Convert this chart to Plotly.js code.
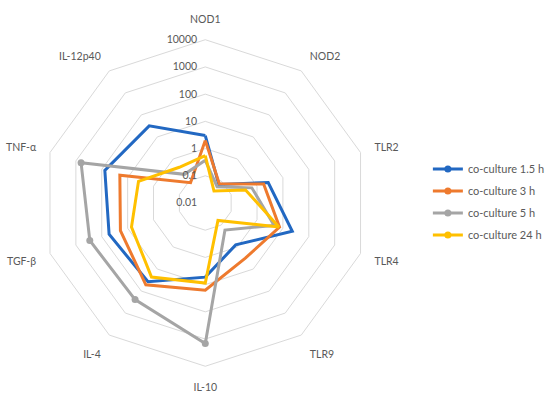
<!DOCTYPE html>
<html>
<head>
<meta charset="utf-8">
<script src="https://cdn.plot.ly/plotly-3.0.1.min.js"></script>
<style>html,body{margin:0;padding:0;background:#fff;}#chart{width:550px;height:396px;}</style>
</head>
<body>
<div id="chart"></div>
<script>
var categories = ["NOD1","NOD2","TLR2","TLR4","TLR9","IL-10","IL-4","TGF-β","TNF-α","IL-12p40"];
var seriesNames = ["co-culture 1.5 h","co-culture 3 h","co-culture 5 h","co-culture 24 h"];
var cc15 = [3, 0.07, 2.7, 23, 0.8, 5.3, 38, 52, 76, 32];
var cc3  = [2, 0.075, 1.8, 7.4, 3.2, 16, 52, 19, 20, 0.083];
var cc5  = [0.37, 0.055, 0.63, 4.6, 0.17, 1450, 245, 290, 630, 0.2];
var cc24 = [0.55, 0.035, 0.36, 7, 0.062, 8.7, 23, 7.1, 3.8, 0.42];
var tickVals = [0.01, 0.1, 1, 10, 100, 1000, 10000];
var tickText = ["0.01","0.1","1","10","100","1000","10000"];
var colors = ["#2268C2","#EE7A2E","#A5A5A5","#FFC000"];

var allSeries = [cc15, cc3, cc5, cc24];
var traces = allSeries.map(function(vals, i){
  return {
    type: "scatterpolar",
    r: vals.concat([vals[0]]),
    theta: categories.concat([categories[0]]),
    name: seriesNames[i],
    legendgroup: "g" + i,
    mode: "lines+markers",
    line: {color: colors[i], width: 3},
    marker: {color: colors[i], size: 7},
    cliponaxis: false
  };
});

var layout = {
  width: 550, height: 396,
  margin: {l:0, r:0, t:0, b:0},
  paper_bgcolor: "#fff",
  font: {family: "Lato, 'Liberation Sans', sans-serif", size: 10.5, color: "#595959"},
  showlegend: true,
  legend: {x: 0.815, y: 0.49, xanchor: "left", yanchor: "middle", tracegroupgap: 3,
           font: {size: 11, color: "#595959"}, bgcolor: "rgba(0,0,0,0)", itemwidth: 30},
  polar: {
    domain: {x: [0.08, 0.702], y: [0.0556, 0.9192]},
    gridshape: "linear",
    bgcolor: "#fff",
    radialaxis: {
      type: "log", range: [-2, 4],
      tickvals: tickVals, ticktext: tickText,
      angle: 90, tickangle: 90, side: "counterclockwise",
      showline: false, ticks: "outside", ticklen: 4, tickcolor: "rgba(0,0,0,0)",
      gridcolor: "#D9D9D9", gridwidth: 1,
      tickfont: {size: 10.5, color: "#595959"}
    },
    angularaxis: {
      direction: "clockwise", rotation: 90,
      categoryarray: categories, categoryorder: "array",
      showgrid: false, showline: true, linecolor: "#D9D9D9", linewidth: 1,
      ticks: "outside", ticklen: 12, tickcolor: "rgba(0,0,0,0)",
      tickfont: {size: 10.5, color: "#595959"}
    }
  }
};

Plotly.newPlot("chart", traces, layout, {displayModeBar: false, staticPlot: true});
</script>
</body>
</html>
